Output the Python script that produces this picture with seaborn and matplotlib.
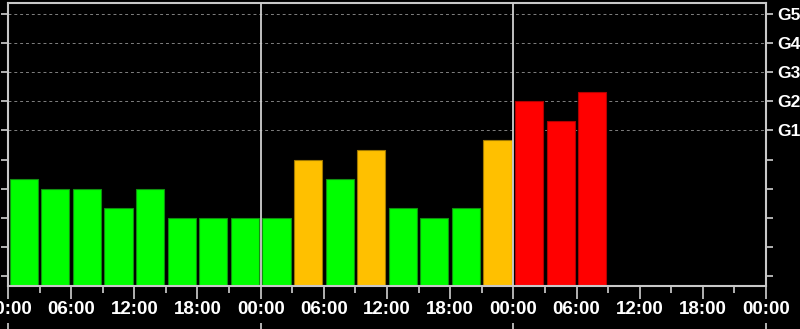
import matplotlib
matplotlib.use("Agg")
import matplotlib.pyplot as plt
import seaborn as sns
import pandas as pd
import numpy as np

# Data: 3-hourly Kp values
bar_hours = [1.5, 4.5, 7.5, 10.5, 13.5, 16.5, 19.5, 22.5,
             25.5, 28.5, 31.5, 34.5, 37.5, 40.5, 43.5, 46.5,
             49.5, 52.5, 55.5]
kp_values = [3.33, 3.0, 3.0, 2.33, 3.0, 2.0, 2.0, 2.0,
             2.0, 4.0, 3.33, 4.33, 2.33, 2.0, 2.33, 4.67,
             6.0, 5.33, 6.33]
levels = ["quiet" if v < 4 else ("active" if v < 5 else "storm") for v in kp_values]

x_tick_hours = list(range(0, 73, 6))
x_tick_labels = ["00:00", "06:00", "12:00", "18:00"] * 3 + ["00:00"]
y_tick_values = list(range(0, 10))
y_tick_labels = ["", "", "", "", "", "G1", "G2", "G3", "G4", "G5"]
day_bounds = [24, 48]

palette = {"quiet": "#00FF00", "active": "#FFC000", "storm": "#FF0000"}
edges = {"quiet": "#109010", "active": "#A07800", "storm": "#B00000"}

df = pd.DataFrame({"hour": bar_hours, "kp": kp_values, "level": levels})

sns.set_theme(style="dark")
plt.rcParams['font.family'] = ['Liberation Sans', 'DejaVu Sans']

Y_MIN, Y_MAX = -0.33, 9.38

fig = plt.figure(figsize=(8, 3.29), dpi=100, facecolor="black")
ax = fig.add_axes([8/800, 1 - 286/329, (766 - 8)/800, (286 - 2.7)/329])
ax.set_facecolor("black")

# grid lines for G levels
for k in range(5, 10):
    ax.axhline(k, color="#808080", lw=0.7, ls=(0, (3, 3)), zorder=0)
for d in day_bounds:
    ax.axvline(d, color="#d0d0d0", lw=1.3, zorder=3)

sns.barplot(data=df, x="hour", y="kp", hue="level", palette=palette,
            native_scale=True, dodge=False, width=0.89, legend=False,
            ax=ax, zorder=2, saturation=1)
# bars rise from the bottom of the axis frame; set edge colours per level
for patch in ax.patches:
    top = patch.get_y() + patch.get_height()
    patch.set_y(Y_MIN)
    patch.set_height(top - Y_MIN)
    fc = matplotlib.colors.to_hex(patch.get_facecolor())
    for k, c in palette.items():
        if fc.lower() == c.lower():
            patch.set_edgecolor(edges[k])
            patch.set_linewidth(0.8)

ax.set_xlim(0, 72)
ax.set_ylim(Y_MIN, Y_MAX)
ax.set_xlabel("")
ax.set_ylabel("")
ax.grid(False)

ax.set_xticks(x_tick_hours)
ax.set_xticklabels(x_tick_labels, color="white", fontsize=13.5, fontweight="bold")
ax.set_xticks(list(range(3, 72, 6)), minor=True)
ax.tick_params(axis="x", which="major", length=9, width=1.2, color="#d0d0d0",
               direction="out", pad=2, bottom=True)
ax.tick_params(axis="x", which="minor", length=5, width=1.2, color="#d0d0d0",
               direction="out", bottom=True)

ax.set_yticks(y_tick_values)
ax.set_yticklabels(y_tick_labels, color="white", fontsize=12.5, fontweight="bold")
ax.tick_params(axis="y", which="major", length=5, width=1.2, color="#d0d0d0",
               direction="out", left=True, right=True, labelleft=False,
               labelright=True, pad=3)

for s in ax.spines.values():
    s.set_visible(True)
    s.set_color("#c8c8c8")
    s.set_linewidth(1.5)

# secondary date axis (ticks only at day boundaries)
sec = ax.secondary_xaxis(-37/283.3)
sec.set_xticks([0, 24, 48, 72])
sec.set_xticklabels(["", "", "", ""])
sec.tick_params(length=8, width=1.2, color="#d0d0d0", direction="out")
sec.spines["bottom"].set_visible(False)

fig.savefig("out.png", dpi=100, facecolor="black")
